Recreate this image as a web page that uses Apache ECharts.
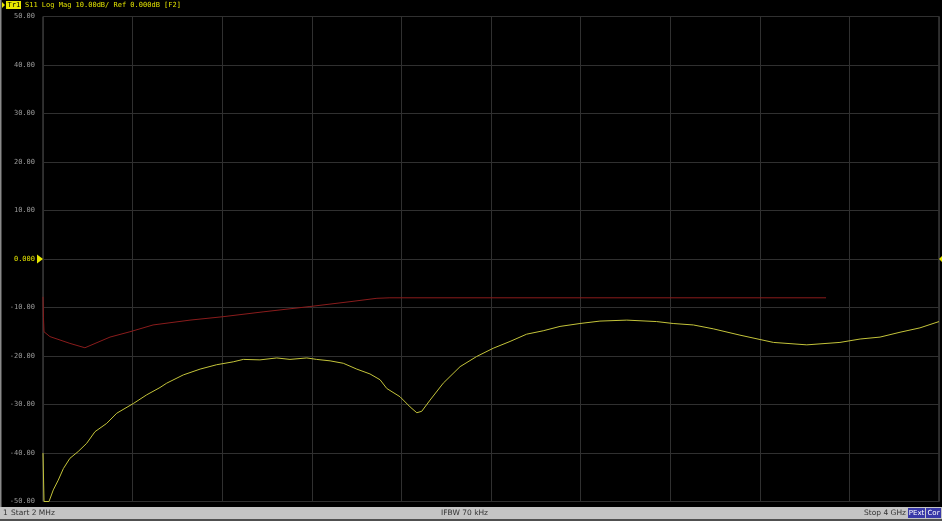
<!DOCTYPE html>
<html><head><meta charset="utf-8">
<script src="https://cdn.jsdelivr.net/npm/echarts@6/dist/echarts.min.js"></script>
<style>html,body{margin:0;padding:0;background:#000;}#c{width:942px;height:521px;}</style>
</head><body><div id="c"></div>
<script>
// Frequency in MHz, S11 in dB
const s11Freq = [2,6.5,28.8,33,48,70,93,122,159,197,234,286,331,405,465,524,554,628,703,777,851,896,970,1045,1104,1179,1223,1283,1342,1402,1461,1506,1536,1595,1640,1670,1692,1729,1788,1863,1937,2011,2086,2160,2234,2309,2398,2487,2607,2740,2814,2904,2993,3112,3261,3410,3558,3648,3737,3826,3915,4000];
const s11Db = [-40,-50,-50,-49.7,-47.6,-45.6,-43.2,-41.1,-39.7,-38,-35.6,-33.9,-31.8,-29.8,-28.0,-26.5,-25.6,-23.9,-22.7,-21.8,-21.2,-20.7,-20.8,-20.4,-20.7,-20.4,-20.7,-21.0,-21.5,-22.7,-23.7,-24.9,-26.7,-28.4,-30.5,-31.7,-31.4,-29.1,-25.6,-22.2,-20.1,-18.4,-17.0,-15.5,-14.8,-13.9,-13.3,-12.8,-12.6,-12.9,-13.3,-13.6,-14.4,-15.7,-17.2,-17.7,-17.2,-16.5,-16.1,-15.1,-14.2,-12.9];
const limFreq = [2,4,6.5,33,122,189,301,390,493,658,805,984,1193,1372,1492,1550,3496];
const limDb = [-7.8,-12,-15,-16,-17.4,-18.3,-16.1,-15,-13.6,-12.6,-11.9,-10.9,-9.8,-8.8,-8.1,-8.0,-8.0];
const yTicks = [50,40,30,20,10,0,-10,-20,-30,-40,-50];
const startF = 2, stopF = 4000, divisions = 10;
const titleText = 'S11 Log Mag 10.00dB/ Ref 0.000dB [F2]';

const chart = echarts.init(document.getElementById('c'), null, {renderer:'canvas'});
const fmt = v => v === 0 ? '0.000' : v.toFixed(2);
const option = {
  backgroundColor:'#000',
  animation:false,
  grid:{left:43, right:3, top:16.5, bottom:19.5, show:true, borderColor:'#555', borderWidth:1},
  xAxis:{type:'value', min:startF, max:stopF, interval:(stopF-startF)/divisions,
    axisLabel:{show:false}, axisTick:{show:false}, axisLine:{show:false},
    splitLine:{show:true, lineStyle:{color:'#303030', width:1}}},
  yAxis:{type:'value', min:yTicks[yTicks.length-1], max:yTicks[0], interval:10,
    axisTick:{show:false}, axisLine:{show:false},
    splitLine:{show:true, lineStyle:{color:'#303030', width:1}},
    axisLabel:{margin:8, fontFamily:'DejaVu Sans Mono', fontSize:7,
      color:(v)=> Number(v)===0 ? '#e0e000' : '#9a9a9a', formatter:fmt}},
  series:[
    {type:'line', data:limFreq.map((f,i)=>[f,limDb[i]]), symbol:'none', lineStyle:{color:'#8a1c1c', width:1}, clip:true, z:3},
    {type:'line', data:s11Freq.map((f,i)=>[f,s11Db[i]]), symbol:'none', lineStyle:{color:'#c4c43a', width:1}, clip:true, z:4}
  ]
};
chart.setOption(option);
const p0 = chart.convertToPixel({gridIndex:0}, [startF, 0]);
const p1 = chart.convertToPixel({gridIndex:0}, [stopF, 0]);
chart.setOption({graphic:[
  {type:'rect', shape:{x:0,y:0,width:942,height:11}, style:{fill:'#000'}},
  {type:'polygon', shape:{points:[[2,2],[2,8],[5,5]]}, style:{fill:'#e8e800'}},
  {type:'rect', shape:{x:6,y:1,width:15,height:8}, style:{fill:'#e8e800'}},
  {type:'text', x:7.5, y:5, style:{text:'Tr1', fill:'#000', font:'7px "DejaVu Sans Mono"', verticalAlign:'middle'}},
  {type:'text', x:25, y:5, style:{text:titleText, fill:'#e0e000', font:'7px "DejaVu Sans Mono"', verticalAlign:'middle'}},
  {type:'polygon', shape:{points:[[p0[0]-6,p0[1]-4.5],[p0[0]-6,p0[1]+4.5],[p0[0],p0[1]]]}, style:{fill:'#e8e800'}},
  {type:'polygon', shape:{points:[[p1[0]+3,p1[1]-3],[p1[0]+3,p1[1]+3],[p1[0],p1[1]]]}, style:{fill:'#e8e800'}},
  {type:'rect', shape:{x:0,y:0,width:1.5,height:521}, style:{fill:'#8a8a8a'}},
  {type:'rect', shape:{x:0,y:507,width:942,height:12}, style:{fill:'#c4c4c4'}},
  {type:'rect', shape:{x:0,y:519,width:942,height:2}, style:{fill:'#505050'}},
  {type:'text', x:3, y:513, style:{text:'1', fill:'#333', font:'7.5px "DejaVu Sans"', verticalAlign:'middle'}},
  {type:'text', x:11, y:513, style:{text:'Start 2 MHz', fill:'#333', font:'7.5px "DejaVu Sans"', verticalAlign:'middle'}},
  {type:'text', x:441, y:513, style:{text:'IFBW 70 kHz', fill:'#333', font:'7.5px "DejaVu Sans"', verticalAlign:'middle'}},
  {type:'text', x:906, y:513, style:{text:'Stop 4 GHz', fill:'#333', font:'7.5px "DejaVu Sans"', verticalAlign:'middle', align:'right'}},
  {type:'rect', shape:{x:908,y:508,width:17,height:10}, style:{fill:'#3838a8'}},
  {type:'text', x:916.5, y:513, style:{text:'PExt', fill:'#fff', font:'7px "DejaVu Sans"', verticalAlign:'middle', align:'center'}},
  {type:'rect', shape:{x:926,y:508,width:15,height:10}, style:{fill:'#3838a8'}},
  {type:'text', x:933.5, y:513, style:{text:'Cor', fill:'#fff', font:'7px "DejaVu Sans"', verticalAlign:'middle', align:'center'}}
]});
</script></body></html>
